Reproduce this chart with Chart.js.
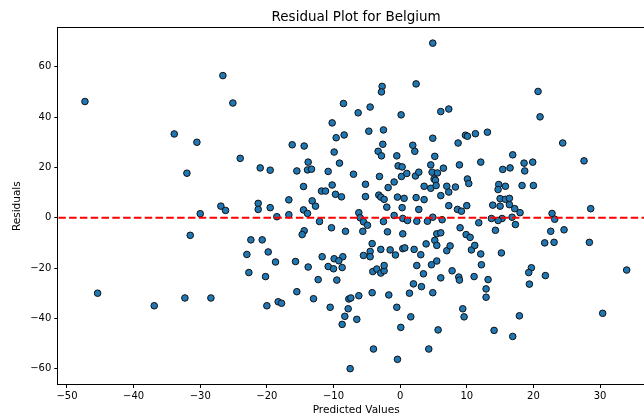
<!DOCTYPE html>
<html>
<head>
<meta charset="utf-8">
<script src="https://cdn.jsdelivr.net/npm/chart.js@4.4.1/dist/chart.umd.min.js"></script>
<style>
  html, body { margin: 0; padding: 0; background: #fff; overflow: hidden; }
  #wrap { width: 660px; height: 418px; }
</style>
</head>
<body>
<div id="wrap"><canvas id="residChart" width="660" height="418"></canvas></div>
<script>
// predicted value / residual pairs
const predicted = [
  -47.3,-33.9,-30.5,-26.6,-25.1,-8.5,-10.2,-9.6,-8.4,-16.2,-14.4,4.9,-2.7,-2.8,2.4,-6.3,-4.5,0.15,6.1,7.3,
  -4.7,-2.5,-2.6,1.9,4.9,8.7,9.8,10.1,11.3,13.1,20.7,21.0,24.4,-32.0,-30.0,-31.5,
  -9.9,-24.0,-13.8,-9.1,-21.0,-19.5,-15.5,-13.9,-13.3,-10.8,-14.5,-10.2,-11.8,-11.2,-9.7,-8.8,-16.7,-13.2,-12.7,
  -26.9,-26.2,-21.3,-21.3,-19.5,-14.5,-13.9,-16.7,-18.5,-12.1,-10.3,-8.2,-14.4,-14.7,-22.4,-20.7,-23.0,-19.8,
  -18.7,-15.7,-11.7,-9.9,-8.6,-9.2,-13.8,-10.8,-8.7,
  -22.7,-20.2,-10.0,-12.3,-9.5,-15.5,-28.4,-13.0,-7.7,-20.0,-18.3,-17.8,-10.5,-7.8,-8.3,-8.7,-7.5,
  -45.4,-36.9,-32.3,
  -4.1,-3.5,-2.9,-2.4,-2.4,2.5,3.5,4.7,7.8,8.8,8.9,11.1,12.2,13.2,12.9,12.9,6.1,2.0,3.2,4.9,1.4,-1.7,-4.2,-6.2,
  -7.4,-6.5,-0.5,1.6,0.1,9.4,9.6,5.7,14.1,-4.0,4.3,-0.4,
  19.7,19.3,19.4,21.8,34.0,17.9,16.9,30.4,
  16.9,27.6,18.6,19.9,15.4,16.5,18.7,14.8,14.7,15.8,18.3,20.0,15.0,15.8,16.4,15.0,16.4,17.2,18.0,16.8,15.3,14.7,
  17.3,22.8,23.2,28.6,14.3,22.6,24.6,21.7,23.1,28.4,15.2,
  -3.3,-2.8,2.2,-0.5,-7.0,-5.2,-5.2,-3.1,-0.3,0.3,0.2,1.0,-0.9,-1.8,-3.2,-2.9,-2.4,-2.0,-0.4,0.6,0.3,-0.9,0.4,1.1,
  2.5,2.8,2.4,3.6,2.3,2.8,4.6,6.5,8.9,12.1,4.8,5.6,5.1,5.3,5.2,3.6,4.6,5.4,7.0,8.3,10.1,10.3,6.1,7.3,7.3,8.6,9.2,
  10.0,13.9,-6.2,-6.0,-5.5,-4.9,-2.5,4.1,4.9,6.3,13.7,11.8,-5.6,-1.9,0.4,5.5,6.1,9.0,9.9,10.5,-4.2,-4.5,-5.5,-4.5,
  -2.9,-1.5,-0.7,0.4,0.7,2.1,3.1,3.9,5.2,5.5,7.0,7.5,10.7,11.2,12.1,5.5
];
const residuals = [
  46.2,33.3,30.0,56.5,45.6,45.4,37.7,31.8,32.9,29.0,28.5,69.4,52.2,50.0,53.2,41.7,44.0,40.9,42.2,43.2,
  34.4,34.9,29.2,28.8,31.6,29.7,32.8,32.4,33.4,34.0,50.2,40.1,29.7,17.7,1.6,-7.0,
  26.1,23.6,22.1,21.7,19.8,18.9,18.6,19.0,19.3,18.4,12.4,13.0,10.6,10.6,9.3,8.3,7.1,6.7,4.6,
  4.6,2.9,5.7,3.3,4.0,3.1,1.7,1.2,0.4,-1.5,-4.0,-5.4,-5.2,-6.7,-8.8,-8.8,-14.6,-13.6,
  -17.6,-17.4,-15.5,-16.3,-15.5,-17.1,-19.6,-19.4,-19.8,
  -21.8,-23.4,-20.3,-24.6,-24.8,-29.4,-31.9,-32.2,-32.3,-35.0,-33.4,-34.0,-35.6,-36.2,-39.2,-42.4,-60.0,
  -30.0,-35.0,-31.9,
  -21.4,-20.4,-22.0,-21.1,-19.0,-19.0,-22.3,-18.7,-21.1,-23.6,-24.8,-23.4,-18.7,-24.6,-28.3,-31.6,-23.9,-26.3,-27.4,-29.8,-30.0,-30.7,-29.8,-31.0,
  -31.9,-40.4,-35.6,-39.4,-43.6,-36.2,-39.4,-44.6,-44.8,-52.2,-52.2,-56.3,
  -19.9,-21.8,-26.4,-23.0,-20.8,-39.0,-47.2,-38.0,
  25.0,22.6,21.7,22.1,19.2,19.8,18.6,13.2,11.2,12.5,12.8,12.8,7.6,7.3,7.7,4.6,5.2,3.6,2.0,0.2,-0.3,-1.1,
  -2.7,1.7,-0.6,3.6,-5.0,-5.4,-4.8,-10.0,-9.8,-9.8,-14.0,
  26.4,24.6,26.4,24.6,17.3,13.3,8.4,16.4,20.6,20.2,16.4,17.6,14.2,12.0,9.0,8.2,7.3,4.2,8.2,7.7,4.0,0.9,-0.3,-1.1,
  -1.4,3.3,8.0,7.2,16.6,18.1,21.0,19.7,21.0,22.1,18.1,17.8,15.4,14.9,24.4,12.5,11.7,12.8,12.5,12.2,15.4,13.6,8.8,10.2,4.8,3.3,2.6,
  4.8,5.0,2.0,0.0,-1.6,-3.0,-1.5,-1.4,0.2,-0.8,-0.3,-2.0,-5.4,-5.6,-6.4,-6.4,-6.0,-4.0,-6.7,-7.8,-10.3,-13.4,-15.0,-15.5,
  -12.6,-12.8,-14.8,-12.3,-12.0,-12.6,-14.7,-10.4,-9.0,-11.0,-13.1,-11.2,-12.8,-11.0,-14.4,-17.2
];
const xTicks = [-50, -40, -30, -20, -10, 0, 10, 20, 30];
const yTicks = [-60, -40, -20, 0, 20, 40, 60];
const xRange = [-51.3, 38.1];
const yRange = [-66.1, 75.3];
const chartTitle = 'Residual Plot for Belgium';

const points = predicted.map((v, i) => ({ x: v, y: residuals[i] }));
const zeroLine = [{ x: xRange[0], y: 0 }, { x: xRange[1], y: 0 }];

const fmt = v => (v < 0 ? '\u2212' + Math.abs(v) : '' + v);
const font = 'DejaVu Sans';

// box round the plot area (drawn above the points like matplotlib spines),
// and the title centred over the axes rather than the whole canvas
const frame = {
  id: 'frame',
  afterDatasetsDraw(chart) {
    const a = chart.chartArea, c = chart.ctx;
    c.save();
    c.strokeStyle = '#000';
    c.lineWidth = 1;
    c.strokeRect(Math.round(a.left) - 0.5, Math.round(a.top) - 0.5,
                 Math.round(a.right - a.left) + 1, Math.round(a.bottom - a.top) + 1);
    c.fillStyle = '#000';
    c.font = '13.5px "' + font + '"';
    c.textAlign = 'center';
    c.textBaseline = 'middle';
    c.fillText(chartTitle, (a.left + a.right) / 2, 17.5);
    c.restore();
  }
};

new Chart('residChart', {
  data: {
    datasets: [
      {
        type: 'line',
        data: zeroLine,
        borderColor: '#ff0000',
        borderWidth: 2,
        borderDash: [7.5, 3.3],
        pointRadius: 0,
        fill: false,
        order: 0
      },
      {
        type: 'scatter',
        data: points,
        backgroundColor: '#1f77b4',
        borderColor: '#111',
        borderWidth: 1,
        pointRadius: 3.3,
        order: 1
      }
    ]
  },
  options: {
    responsive: false,
    animation: false,
    events: [],
    layout: { padding: { left: 0, right: 6, top: 28.3, bottom: 0 } },
    plugins: {
      legend: { display: false },
      tooltip: { enabled: false },
      title: { display: false }
    },
    scales: {
      x: {
        type: 'linear',
        min: xRange[0],
        max: xRange[1],
        afterBuildTicks: s => { s.ticks = xTicks.map(v => ({ value: v })); },
        afterFit: s => { s.height = 34; },
        border: { display: false },
        grid: { drawOnChartArea: false, drawTicks: true, tickLength: 4, color: '#000' },
        ticks: { color: '#000', padding: 2, maxRotation: 0, font: { family: font, size: 10 }, callback: fmt },
        title: {
          display: true, text: 'Predicted Values', color: '#000',
          font: { family: font, size: 10.5 }, padding: { top: 0, bottom: 1 }
        }
      },
      y: {
        type: 'linear',
        min: yRange[0],
        max: yRange[1],
        afterBuildTicks: s => { s.ticks = yTicks.map(v => ({ value: v })); },
        afterFit: s => { s.width = 58.3; },
        border: { display: false },
        grid: { drawOnChartArea: false, drawTicks: true, tickLength: 4, color: '#000' },
        ticks: { color: '#000', padding: 3, font: { family: font, size: 10 }, callback: fmt },
        title: {
          display: true, text: 'Residuals', color: '#000',
          font: { family: font, size: 10.5 }, padding: { top: 11, bottom: 0 }
        }
      }
    }
  },
  plugins: [frame]
});
</script>
</body>
</html>
